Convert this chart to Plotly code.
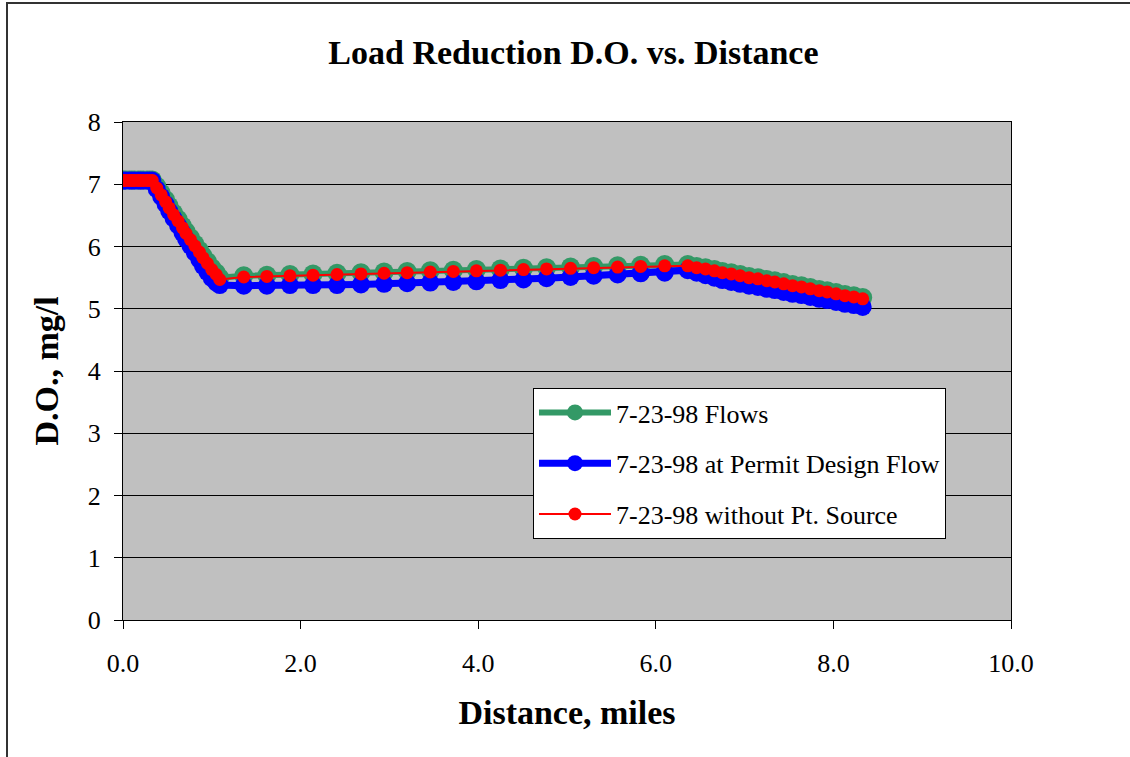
import plotly.graph_objects as go

# ---- data ----
distance_mi = [0.00, 0.03, 0.07, 0.10, 0.13, 0.17, 0.20, 0.23, 0.27, 0.30, 0.33,
               0.38, 0.43, 0.48, 0.52, 0.57, 0.62, 0.67, 0.71, 0.76, 0.81, 0.86, 0.90, 0.95, 1.00, 1.05,
               1.09, 1.36, 1.62, 1.88, 2.14, 2.41, 2.68, 2.94, 3.20, 3.46, 3.72, 3.98, 4.25, 4.51,
               4.77, 5.04, 5.30, 5.57, 5.83, 6.10, 6.36,
               6.46, 6.56, 6.66, 6.75, 6.85, 6.95, 7.05, 7.15, 7.25, 7.34, 7.44, 7.54, 7.64, 7.74,
               7.84, 7.93, 8.03, 8.13, 8.23, 8.33]

do_flows = [7.07, 7.07, 7.07, 7.07, 7.07, 7.07, 7.07, 7.07, 7.07, 7.07, 7.07,
            6.97, 6.86, 6.75, 6.65, 6.54, 6.44, 6.33, 6.24, 6.14, 6.04, 5.94, 5.85, 5.76, 5.66, 5.58,
            5.50, 5.53, 5.54, 5.55, 5.56, 5.57, 5.58, 5.59, 5.60, 5.61, 5.62, 5.63, 5.64, 5.65,
            5.66, 5.67, 5.68, 5.69, 5.70, 5.71, 5.71,
            5.68, 5.66, 5.63, 5.60, 5.58, 5.55, 5.52, 5.50, 5.47, 5.45, 5.42, 5.39, 5.37, 5.34,
            5.31, 5.29, 5.26, 5.23, 5.21, 5.18]

do_permit = [7.06, 7.06, 7.06, 7.06, 7.06, 7.06, 7.06, 7.06, 7.06, 7.06, 7.06,
             6.92, 6.80, 6.68, 6.57, 6.45, 6.34, 6.22, 6.12, 6.01, 5.90, 5.79, 5.69, 5.59, 5.49, 5.42,
             5.38, 5.37, 5.37, 5.38, 5.38, 5.38, 5.39, 5.40, 5.41, 5.42, 5.43, 5.44, 5.46, 5.47,
             5.49, 5.51, 5.53, 5.55, 5.57, 5.58, 5.62,
             5.58, 5.54, 5.50, 5.46, 5.43, 5.40, 5.37, 5.35, 5.32, 5.30, 5.27, 5.24, 5.22, 5.19,
             5.16, 5.14, 5.11, 5.08, 5.06, 5.03]

do_no_pt = [7.06, 7.06, 7.06, 7.06, 7.06, 7.06, 7.06, 7.06, 7.06, 7.06, 7.06,
            6.94, 6.83, 6.72, 6.62, 6.51, 6.41, 6.30, 6.21, 6.11, 6.01, 5.91, 5.82, 5.73, 5.63, 5.55,
            5.47, 5.51, 5.52, 5.53, 5.54, 5.55, 5.56, 5.57, 5.58, 5.59, 5.60, 5.61, 5.62, 5.63,
            5.64, 5.65, 5.66, 5.67, 5.68, 5.69, 5.69,
            5.66, 5.64, 5.61, 5.58, 5.56, 5.53, 5.50, 5.48, 5.45, 5.43, 5.40, 5.37, 5.35, 5.32,
            5.29, 5.27, 5.24, 5.21, 5.19, 5.16]

series_names = ["7-23-98 Flows", "7-23-98 at Permit Design Flow", "7-23-98 without Pt. Source"]
x_ticks = [0, 2, 4, 6, 8, 10]
y_ticks = [0, 1, 2, 3, 4, 5, 6, 7, 8]

SERIF = "Liberation Serif, Times New Roman, serif"

fig = go.Figure()
fig.add_trace(go.Scatter(x=distance_mi, y=do_flows, name=series_names[0], legendgroup="a",
                         mode="lines+markers",
                         line=dict(color="#339966", width=6),
                         marker=dict(color="#339966", size=19)))
fig.add_trace(go.Scatter(x=distance_mi, y=do_permit, name=series_names[1], legendgroup="b",
                         mode="lines+markers",
                         line=dict(color="#0000FF", width=7),
                         marker=dict(color="#0000FF", size=18)))
fig.add_trace(go.Scatter(x=distance_mi, y=do_no_pt, name=series_names[2], legendgroup="c",
                         mode="lines+markers",
                         line=dict(color="#FF0000", width=2),
                         marker=dict(color="#FF0000", size=13)))

fig.update_layout(
    width=1130, height=757,
    margin=dict(l=123, r=119, t=122, b=137, autoexpand=False),
    paper_bgcolor="white",
    plot_bgcolor="#C0C0C0",
    font=dict(family=SERIF, color="black", size=26),
    title=dict(text="<b>Load Reduction D.O. vs. Distance</b>", x=0.5075, xanchor="center",
               y=1 - 52 / 757, yanchor="middle", font=dict(family=SERIF, size=34)),
    showlegend=True,
    legend=dict(x=0.4617, y=0.4659, xanchor="left", yanchor="top",
                bgcolor="white", bordercolor="black", borderwidth=1,
                font=dict(family=SERIF, size=26), tracegroupgap=14,
                itemwidth=72),
    shapes=[dict(type="rect", xref="paper", yref="paper",
                 x0=(7 - 123) / 888, x1=1.3, y0=-0.5, y1=(620 - 3) / 498,
                 line=dict(color="#333333", width=2), fillcolor="rgba(0,0,0,0)", layer="below")],
)

fig.update_xaxes(range=[0, 10], tickvals=x_ticks, tickformat=".1f",
                 showgrid=False, zeroline=False,
                 showline=True, linecolor="black", linewidth=1, mirror=True,
                 ticks="outside", ticklen=8, tickcolor="black",
                 ticklabelstandoff=12,
                 tickfont=dict(family=SERIF, size=26),
                 title=dict(text="<b>Distance, miles</b>", font=dict(family=SERIF, size=34), standoff=22))
fig.update_yaxes(range=[0, 8], tickvals=y_ticks,
                 showgrid=True, gridcolor="black", gridwidth=1, zeroline=False,
                 showline=True, linecolor="black", linewidth=1, mirror=True,
                 ticks="outside", ticklen=8, tickcolor="black",
                 ticklabelstandoff=8,
                 tickfont=dict(family=SERIF, size=26),
                 title=dict(text="<b>D.O., mg/l</b>", font=dict(family=SERIF, size=34), standoff=18))

fig.write_html("out.html")
